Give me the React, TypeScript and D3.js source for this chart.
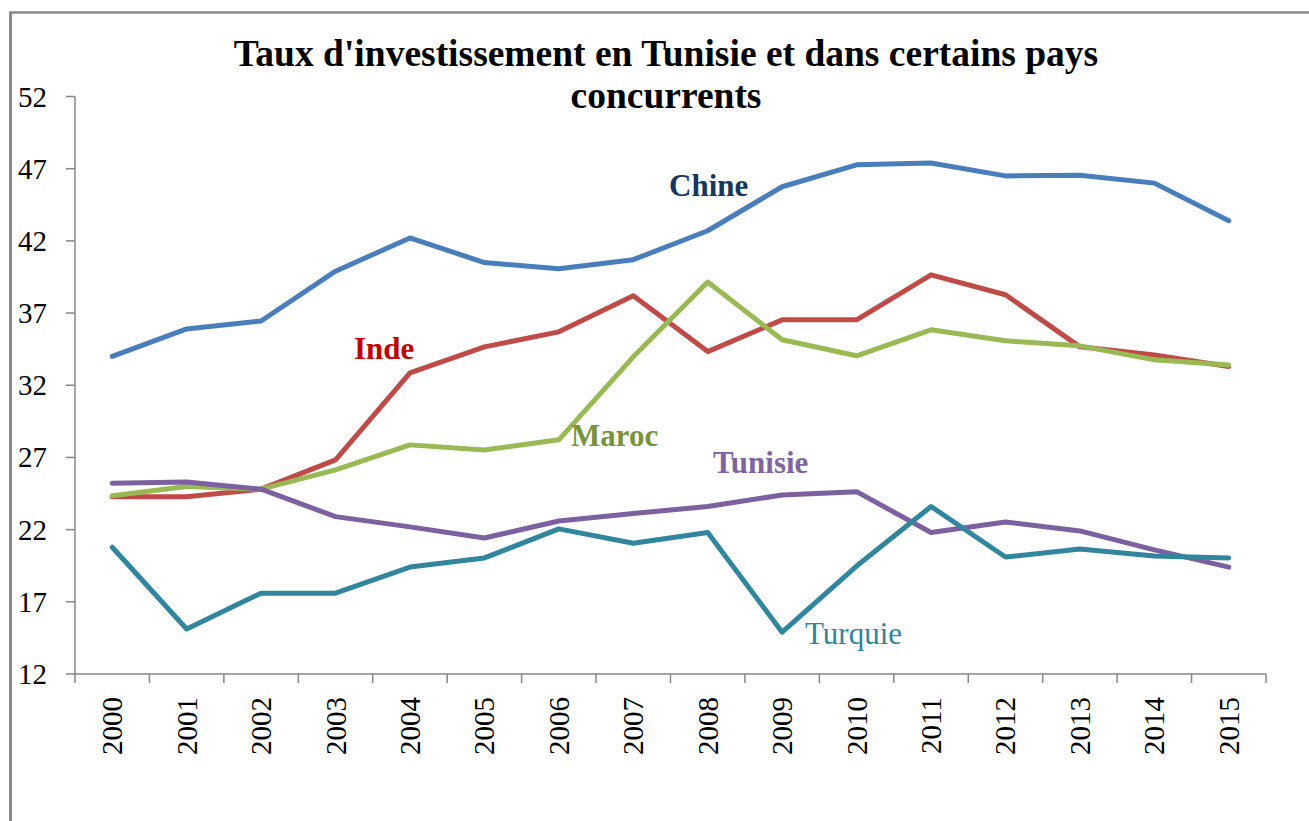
import React from "react";
import * as d3 from "d3";

const years = ["2000","2001","2002","2003","2004","2005","2006","2007","2008","2009","2010","2011","2012","2013","2014","2015"];
const yTicks = [12, 17, 22, 27, 32, 37, 42, 47, 52];

const chine = [34.0, 35.9, 36.45, 39.9, 42.2, 40.5, 40.07, 40.7, 42.7, 45.75, 47.27, 47.4, 46.5, 46.55, 46.0, 43.4];
const inde = [24.27, 24.27, 24.8, 26.83, 32.86, 34.66, 35.7, 38.2, 34.33, 36.53, 36.53, 39.65, 38.27, 34.66, 34.1, 33.3];
const maroc = [24.34, 24.98, 24.8, 26.14, 27.87, 27.52, 28.22, 33.97, 39.15, 35.15, 34.04, 35.84, 35.08, 34.73, 33.76, 33.41];
const tunisie = [25.22, 25.3, 24.8, 22.9, 22.19, 21.42, 22.6, 23.12, 23.6, 24.4, 24.63, 21.8, 22.53, 21.91, 20.6, 19.4];
const turquie = [20.78, 15.12, 17.6, 17.6, 19.41, 20.04, 22.05, 21.06, 21.8, 14.9, 19.48, 23.6, 20.1, 20.66, 20.18, 20.04];

const seriesNames = ["Chine", "Inde", "Maroc", "Tunisie", "Turquie"];
const seriesValues = [chine, inde, maroc, tunisie, turquie];
const lineColors = ["#4a7ebb", "#be4b48", "#98b954", "#7d60a0", "#31859c"];

const W = 1309, H = 821;
const left = 75, right = 1266, top = 96.5, bottom = 674;
const font = "'Liberation Serif', 'Times New Roman', serif";

export default function App() {
  const x = d3.scaleBand<string>().domain(years).range([left, right]).padding(0);
  const y = d3.scaleLinear().domain([12, 52]).range([bottom, top]);
  const cx = (yr: string) => (x(yr) as number) + x.bandwidth() / 2;
  const line = d3.line<number>().x((_, i) => cx(years[i])).y((v) => y(v));
  const tickXs = d3.range(years.length + 1).map((i) => left + i * x.bandwidth());

  const labels = [
    { text: "Chine", x: 669, y: 196, color: "#17375e", bold: true },
    { text: "Inde", x: 354, y: 359, color: "#c00000", bold: true },
    { text: "Maroc", x: 571, y: 446, color: "#77933c", bold: true },
    { text: "Tunisie", x: 713, y: 473, color: "#8064a2", bold: true },
    { text: "Turquie", x: 805, y: 644, color: "#31849b", bold: false },
  ];

  return (
    <svg width={W} height={H} style={{ position: "absolute", left: 0, top: 0, background: "#fff" }} fontFamily={font}>
      <rect x={0} y={0} width={W} height={H} fill="#fff" />
      <line x1={10.5} y1={12} x2={10.5} y2={H} stroke="#8a8a8a" strokeWidth={3} />
      <line x1={9} y1={12.5} x2={W} y2={12.5} stroke="#8a8a8a" strokeWidth={2.5} />
      <text x={666} y={66} textAnchor="middle" fontSize={37.5} fontWeight="bold" fill="#000">
        Taux d'investissement en Tunisie et dans certains pays
      </text>
      <text x={666} y={108} textAnchor="middle" fontSize={37.5} fontWeight="bold" fill="#000">
        concurrents
      </text>
      {/* y axis */}
      <line x1={left} y1={top} x2={left} y2={bottom} stroke="#868686" strokeWidth={1.5} />
      {yTicks.map((t) => (
        <g key={t}>
          <line x1={66} y1={y(t)} x2={left} y2={y(t)} stroke="#868686" strokeWidth={1.5} />
          <text x={47} y={y(t) + 10} textAnchor="end" fontSize={29} fill="#000">{t}</text>
        </g>
      ))}
      {/* x axis */}
      <line x1={left} y1={bottom} x2={right} y2={bottom} stroke="#868686" strokeWidth={1.5} />
      {tickXs.map((tx, i) => (
        <line key={i} x1={tx} y1={bottom} x2={tx} y2={bottom + 9} stroke="#868686" strokeWidth={1.5} />
      ))}
      {years.map((yr) => (
        <text key={yr} transform={`translate(${cx(yr) + 10},697) rotate(-90)`} textAnchor="end" fontSize={29} fill="#000">{yr}</text>
      ))}
      {seriesValues.map((vals, k) => (
        <path key={seriesNames[k]} d={line(vals) as string} fill="none" stroke={lineColors[k]} strokeWidth={5} strokeLinejoin="round" strokeLinecap="round" />
      ))}
      {labels.map((l) => (
        <text key={l.text} x={l.x} y={l.y} fontSize={31} fontWeight={l.bold ? "bold" : "normal"} fill={l.color}>{l.text}</text>
      ))}
    </svg>
  );
}
